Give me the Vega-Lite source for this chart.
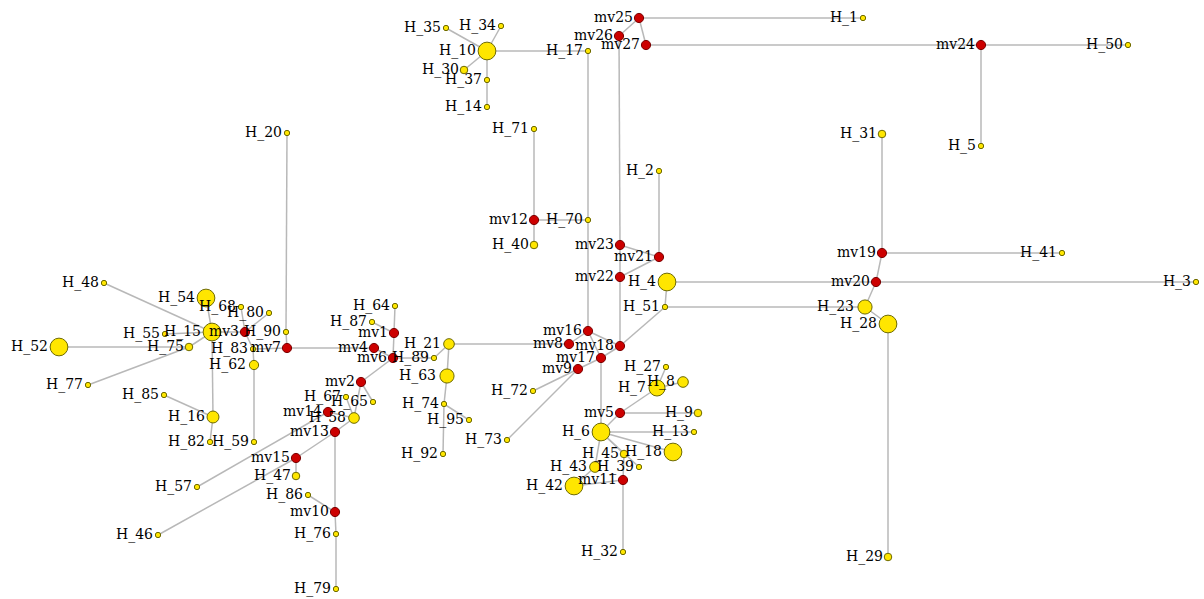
{
"$schema": "https://vega.github.io/schema/vega-lite/v6.json",
"width": 1204, "height": 599,
"autosize": {"type": "fit", "contains": "padding"},
"padding": 0,
"background": "white",
"config": {"view": {"stroke": null}},
"datasets": {
"nodes": [
{"name":"H_1","kind":"H","x":863,"y":18,"freq":1},
{"name":"H_50","kind":"H","x":1128,"y":45,"freq":1},
{"name":"H_5","kind":"H","x":981,"y":146,"freq":1},
{"name":"H_35","kind":"H","x":446,"y":28,"freq":1},
{"name":"H_34","kind":"H","x":501,"y":26,"freq":1},
{"name":"H_10","kind":"H","x":487,"y":51,"freq":11},
{"name":"H_17","kind":"H","x":588,"y":51,"freq":1},
{"name":"H_30","kind":"H","x":464,"y":70,"freq":2},
{"name":"H_37","kind":"H","x":487,"y":80,"freq":1},
{"name":"H_14","kind":"H","x":487,"y":107,"freq":1},
{"name":"H_71","kind":"H","x":534,"y":129,"freq":1},
{"name":"H_2","kind":"H","x":659,"y":171,"freq":1},
{"name":"H_70","kind":"H","x":588,"y":220,"freq":1},
{"name":"H_40","kind":"H","x":534,"y":245,"freq":2},
{"name":"H_4","kind":"H","x":667,"y":282,"freq":11},
{"name":"H_51","kind":"H","x":665,"y":307,"freq":1},
{"name":"H_31","kind":"H","x":882,"y":134,"freq":2},
{"name":"H_41","kind":"H","x":1062,"y":253,"freq":1},
{"name":"H_3","kind":"H","x":1196,"y":282,"freq":1},
{"name":"H_23","kind":"H","x":865,"y":307,"freq":7},
{"name":"H_28","kind":"H","x":888,"y":324,"freq":11},
{"name":"H_29","kind":"H","x":888,"y":557,"freq":2},
{"name":"H_20","kind":"H","x":287,"y":133,"freq":1},
{"name":"H_48","kind":"H","x":104,"y":283,"freq":1},
{"name":"H_54","kind":"H","x":206,"y":298,"freq":11},
{"name":"H_68","kind":"H","x":241,"y":307,"freq":1},
{"name":"H_80","kind":"H","x":269,"y":313,"freq":1},
{"name":"H_15","kind":"H","x":212,"y":332,"freq":11},
{"name":"H_90","kind":"H","x":286,"y":332,"freq":1},
{"name":"H_55","kind":"H","x":165,"y":334,"freq":1},
{"name":"H_52","kind":"H","x":59,"y":347,"freq":11},
{"name":"H_75","kind":"H","x":189,"y":347,"freq":2},
{"name":"H_83","kind":"H","x":253,"y":349,"freq":1},
{"name":"H_62","kind":"H","x":254,"y":365,"freq":3},
{"name":"H_77","kind":"H","x":88,"y":385,"freq":1},
{"name":"H_85","kind":"H","x":164,"y":395,"freq":1},
{"name":"H_16","kind":"H","x":213,"y":417,"freq":5},
{"name":"H_82","kind":"H","x":210,"y":442,"freq":1},
{"name":"H_59","kind":"H","x":254,"y":442,"freq":1},
{"name":"H_64","kind":"H","x":395,"y":306,"freq":1},
{"name":"H_87","kind":"H","x":372,"y":322,"freq":1},
{"name":"H_89","kind":"H","x":434,"y":358,"freq":1},
{"name":"H_21","kind":"H","x":449,"y":344,"freq":4},
{"name":"H_63","kind":"H","x":447,"y":376,"freq":7},
{"name":"H_67","kind":"H","x":346,"y":397,"freq":1},
{"name":"H_65","kind":"H","x":373,"y":402,"freq":1},
{"name":"H_58","kind":"H","x":354,"y":418,"freq":4},
{"name":"H_74","kind":"H","x":444,"y":404,"freq":1},
{"name":"H_95","kind":"H","x":469,"y":420,"freq":1},
{"name":"H_92","kind":"H","x":443,"y":454,"freq":1},
{"name":"H_47","kind":"H","x":296,"y":476,"freq":2},
{"name":"H_57","kind":"H","x":197,"y":487,"freq":1},
{"name":"H_86","kind":"H","x":308,"y":495,"freq":1},
{"name":"H_46","kind":"H","x":158,"y":535,"freq":1},
{"name":"H_76","kind":"H","x":336,"y":534,"freq":1},
{"name":"H_79","kind":"H","x":336,"y":589,"freq":1},
{"name":"H_72","kind":"H","x":533,"y":391,"freq":1},
{"name":"H_73","kind":"H","x":507,"y":440,"freq":1},
{"name":"H_27","kind":"H","x":666,"y":367,"freq":1},
{"name":"H_7","kind":"H","x":657,"y":388,"freq":9},
{"name":"H_8","kind":"H","x":683,"y":382,"freq":4},
{"name":"H_9","kind":"H","x":698,"y":413,"freq":2},
{"name":"H_6","kind":"H","x":601,"y":432,"freq":11},
{"name":"H_13","kind":"H","x":694,"y":432,"freq":1},
{"name":"H_18","kind":"H","x":673,"y":452,"freq":11},
{"name":"H_45","kind":"H","x":624,"y":454,"freq":2},
{"name":"H_43","kind":"H","x":595,"y":467,"freq":4},
{"name":"H_39","kind":"H","x":639,"y":467,"freq":1},
{"name":"H_42","kind":"H","x":574,"y":486,"freq":11},
{"name":"H_32","kind":"H","x":623,"y":552,"freq":1},
{"name":"mv25","kind":"mv","x":639,"y":18,"freq":0},
{"name":"mv26","kind":"mv","x":619,"y":36,"freq":0},
{"name":"mv27","kind":"mv","x":646,"y":45,"freq":0},
{"name":"mv24","kind":"mv","x":981,"y":45,"freq":0},
{"name":"mv12","kind":"mv","x":534,"y":220,"freq":0},
{"name":"mv23","kind":"mv","x":620,"y":245,"freq":0},
{"name":"mv21","kind":"mv","x":659,"y":257,"freq":0},
{"name":"mv22","kind":"mv","x":620,"y":277,"freq":0},
{"name":"mv19","kind":"mv","x":882,"y":253,"freq":0},
{"name":"mv20","kind":"mv","x":876,"y":282,"freq":0},
{"name":"mv16","kind":"mv","x":588,"y":331,"freq":0},
{"name":"mv8","kind":"mv","x":569,"y":344,"freq":0},
{"name":"mv18","kind":"mv","x":620,"y":346,"freq":0},
{"name":"mv17","kind":"mv","x":601,"y":358,"freq":0},
{"name":"mv9","kind":"mv","x":578,"y":369,"freq":0},
{"name":"mv5","kind":"mv","x":620,"y":413,"freq":0},
{"name":"mv11","kind":"mv","x":623,"y":480,"freq":0},
{"name":"mv1","kind":"mv","x":394,"y":333,"freq":0},
{"name":"mv4","kind":"mv","x":374,"y":348,"freq":0},
{"name":"mv6","kind":"mv","x":393,"y":358,"freq":0},
{"name":"mv2","kind":"mv","x":361,"y":382,"freq":0},
{"name":"mv14","kind":"mv","x":328,"y":412,"freq":0},
{"name":"mv13","kind":"mv","x":335,"y":432,"freq":0},
{"name":"mv15","kind":"mv","x":296,"y":458,"freq":0},
{"name":"mv10","kind":"mv","x":335,"y":512,"freq":0},
{"name":"mv3","kind":"mv","x":245,"y":332,"freq":0},
{"name":"mv7","kind":"mv","x":287,"y":348,"freq":0}
],
"edges": [
{"s":"H_35","t":"H_10"},{"s":"H_34","t":"H_10"},{"s":"H_30","t":"H_10"},{"s":"H_10","t":"H_37"},
{"s":"H_37","t":"H_14"},{"s":"H_10","t":"H_17"},{"s":"H_17","t":"H_70"},{"s":"H_70","t":"mv16"},
{"s":"H_70","t":"mv12"},{"s":"H_71","t":"mv12"},{"s":"mv12","t":"H_40"},{"s":"mv25","t":"H_1"},
{"s":"mv25","t":"mv26"},{"s":"mv25","t":"mv27"},{"s":"mv27","t":"mv24"},{"s":"mv24","t":"H_50"},
{"s":"mv24","t":"H_5"},{"s":"mv26","t":"mv23"},{"s":"mv23","t":"mv22"},{"s":"mv23","t":"mv21"},
{"s":"mv21","t":"mv22"},{"s":"mv21","t":"H_2"},{"s":"mv22","t":"mv18"},{"s":"mv18","t":"H_51"},
{"s":"H_51","t":"H_4"},{"s":"H_51","t":"H_23"},{"s":"H_4","t":"mv20"},{"s":"mv20","t":"H_3"},
{"s":"mv20","t":"mv19"},{"s":"mv19","t":"H_31"},{"s":"mv19","t":"H_41"},{"s":"mv20","t":"H_23"},
{"s":"H_23","t":"H_28"},{"s":"H_28","t":"H_29"},{"s":"mv16","t":"mv18"},{"s":"mv16","t":"mv8"},
{"s":"mv16","t":"mv17"},{"s":"mv18","t":"mv17"},{"s":"mv17","t":"mv9"},{"s":"mv8","t":"H_21"},
{"s":"mv9","t":"H_72"},{"s":"mv9","t":"H_73"},{"s":"mv17","t":"H_6"},{"s":"mv5","t":"H_6"},
{"s":"mv5","t":"H_7"},{"s":"mv5","t":"H_9"},{"s":"H_7","t":"H_27"},{"s":"H_7","t":"H_8"},
{"s":"H_6","t":"H_13"},{"s":"H_6","t":"H_18"},{"s":"H_6","t":"H_45"},{"s":"H_6","t":"H_39"},
{"s":"H_6","t":"H_43"},{"s":"H_43","t":"H_42"},{"s":"H_45","t":"mv11"},{"s":"mv11","t":"H_42"},
{"s":"mv11","t":"H_32"},{"s":"mv6","t":"H_89"},{"s":"H_89","t":"H_21"},{"s":"H_21","t":"H_63"},
{"s":"H_63","t":"H_74"},{"s":"H_74","t":"H_92"},{"s":"H_74","t":"H_95"},{"s":"H_64","t":"mv1"},
{"s":"H_87","t":"mv1"},{"s":"mv1","t":"mv6"},{"s":"mv4","t":"mv6"},{"s":"mv4","t":"mv7"},
{"s":"mv6","t":"mv2"},{"s":"mv2","t":"H_65"},{"s":"mv2","t":"H_58"},{"s":"H_67","t":"H_58"},
{"s":"mv14","t":"H_58"},{"s":"mv13","t":"H_58"},{"s":"mv14","t":"H_57"},{"s":"mv13","t":"mv15"},
{"s":"mv15","t":"H_46"},{"s":"mv15","t":"H_47"},{"s":"mv13","t":"mv10"},{"s":"H_86","t":"mv10"},
{"s":"mv10","t":"H_76"},{"s":"H_76","t":"H_79"},{"s":"mv7","t":"H_90"},{"s":"H_90","t":"H_20"},
{"s":"mv7","t":"H_83"},{"s":"H_83","t":"mv3"},{"s":"mv3","t":"H_68"},{"s":"mv3","t":"H_80"},
{"s":"mv3","t":"H_15"},{"s":"H_54","t":"H_15"},{"s":"H_48","t":"H_15"},{"s":"H_55","t":"H_15"},
{"s":"H_75","t":"H_15"},{"s":"H_52","t":"H_75"},{"s":"H_77","t":"H_75"},{"s":"H_15","t":"H_16"},
{"s":"H_16","t":"H_82"},{"s":"H_85","t":"H_16"},{"s":"H_83","t":"H_62"},{"s":"H_62","t":"H_59"}
]
},
"encoding": {
"x": {"field": "x", "type": "quantitative", "scale": {"domain": [0, 1204], "nice": false, "zero": false}, "axis": null},
"y": {"field": "y", "type": "quantitative", "scale": {"domain": [0, 599], "nice": false, "zero": false, "reverse": true}, "axis": null}
},
"layer": [
{"data": {"name": "edges"},
 "transform": [
  {"lookup": "s", "from": {"data": {"name": "nodes"}, "key": "name", "fields": ["x", "y"]}, "as": ["xa", "ya"]},
  {"lookup": "t", "from": {"data": {"name": "nodes"}, "key": "name", "fields": ["x", "y"]}, "as": ["xb", "yb"]}
 ],
 "mark": {"type": "rule", "color": "#b8b8b8", "strokeWidth": 1.5},
 "encoding": {
  "x": {"field": "xa", "type": "quantitative"},
  "y": {"field": "ya", "type": "quantitative"},
  "x2": {"field": "xb"},
  "y2": {"field": "yb"}
 }},
{"data": {"name": "nodes"},
 "transform": [{"filter": "datum.kind == 'H'"}],
 "mark": {"type": "circle", "fill": "#ffe600", "stroke": "#6e6a00", "strokeWidth": 1, "opacity": 1},
 "encoding": {"size": {"field": "freq", "type": "quantitative", "scale": {"domain": [0, 11], "range": [0, 314]}, "legend": null}}},
{"data": {"name": "nodes"},
 "transform": [{"filter": "datum.kind == 'mv'"}],
 "mark": {"type": "circle", "fill": "#cc0000", "stroke": "#7a0000", "strokeWidth": 1, "opacity": 1, "size": 85}},
{"data": {"name": "nodes"},
 "transform": [{"filter": "datum.kind == 'H' && datum.freq <= 2"}],
 "mark": {"type": "text", "align": "right", "baseline": "middle", "dx": -5, "font": "DejaVu Serif", "fontSize": 14, "color": "#000000"},
 "encoding": {"text": {"field": "name"}}},
{"data": {"name": "nodes"},
 "transform": [{"filter": "datum.kind == 'H' && datum.freq > 2 && datum.freq <= 5"}],
 "mark": {"type": "text", "align": "right", "baseline": "middle", "dx": -8, "font": "DejaVu Serif", "fontSize": 14, "color": "#000000"},
 "encoding": {"text": {"field": "name"}}},
{"data": {"name": "nodes"},
 "transform": [{"filter": "datum.kind == 'H' && datum.freq > 5"}],
 "mark": {"type": "text", "align": "right", "baseline": "middle", "dx": -11, "font": "DejaVu Serif", "fontSize": 14, "color": "#000000"},
 "encoding": {"text": {"field": "name"}}},
{"data": {"name": "nodes"},
 "transform": [{"filter": "datum.kind == 'mv'"}],
 "mark": {"type": "text", "align": "right", "baseline": "middle", "dx": -6, "font": "DejaVu Serif", "fontSize": 14, "color": "#000000"},
 "encoding": {"text": {"field": "name"}}}
]
}
